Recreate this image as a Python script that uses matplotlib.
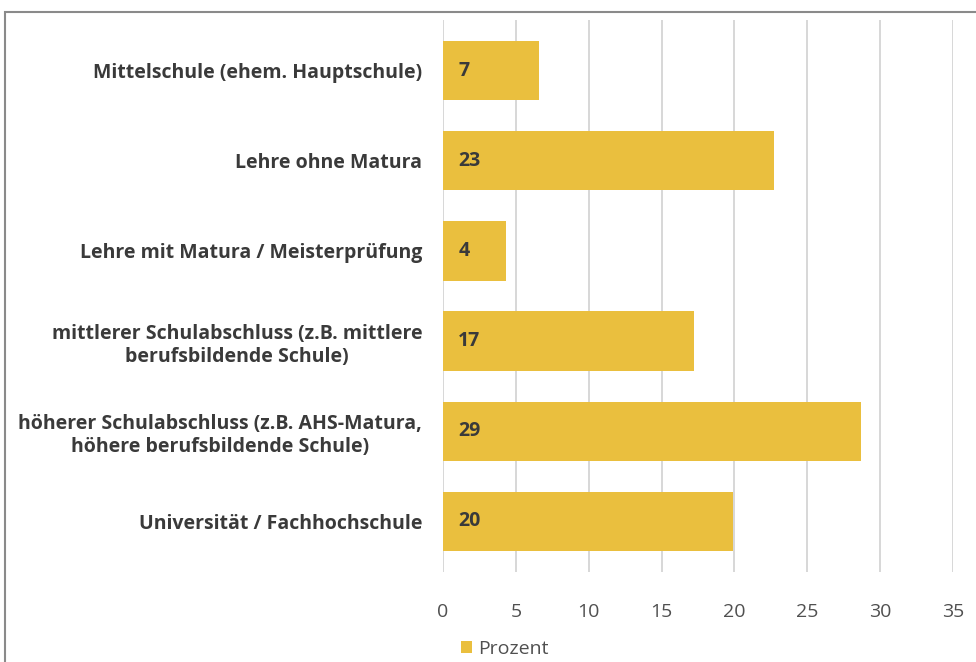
import matplotlib.pyplot as plt
from matplotlib.patches import Rectangle

categories = [
    "Mittelschule (ehem. Hauptschule)",
    "Lehre ohne Matura",
    "Lehre mit Matura / Meisterprüfung",
    "mittlerer Schulabschluss (z.B. mittlere\nberufsbildende Schule)",
    "höherer Schulabschluss (z.B. AHS-Matura,\nhöhere berufsbildende Schule)",
    "Universität / Fachhochschule",
]
values = [6.6, 22.7, 4.3, 17.2, 28.7, 19.9]
series_name = "Prozent"
x_ticks = [0, 5, 10, 15, 20, 25, 30, 35]

bar_color = "#EABF3E"
text_color = "#3a3a3a"

plt.rcParams['font.family'] = ['Open Sans', 'DejaVu Sans']

fig = plt.figure(figsize=(9.76, 6.62), dpi=100)
ax = fig.add_axes([443 / 976, 90 / 662, 510 / 976, 552 / 662])

y = list(range(len(categories)))
ax.barh(y, values, height=0.66, color=bar_color, label=series_name, zorder=2)

for yi, v in zip(y, values):
    ax.text(1.05, yi, f"{round(v)}", va="center", ha="left",
            fontsize=14, fontweight="bold", color=text_color, zorder=3)

ax.set_xlim(0, 35)
ax.set_ylim(5.56, -0.56)
ax.set_xticks(x_ticks)
ax.set_yticks(y)
ax.set_yticklabels(categories, fontsize=14, fontweight="bold",
                   color=text_color, multialignment="center", linespacing=1.23)
ax.tick_params(axis="y", length=0, pad=15)
ax.tick_params(axis="x", length=0, pad=22, labelsize=14, labelcolor="#505050")

ax.grid(axis="x", color="#d4d4d4", linewidth=1.3, zorder=0)
for s in ax.spines.values():
    s.set_visible(False)

ax.legend(loc="center", bbox_to_anchor=(505 / 976, 13 / 662),
          bbox_transform=fig.transFigure, frameon=False,
          handlelength=0.55, handleheight=0.55, handletextpad=0.3,
          prop={'size': 14}, labelcolor="#505050")

# outer frame
fig.add_artist(Rectangle((5 / 976, -0.1), 1.2, 1.1 - 12 / 662,
                         transform=fig.transFigure, fill=False,
                         edgecolor="#8a8a8a", linewidth=1.5, clip_on=False))

fig.savefig("out.png", dpi=100)
